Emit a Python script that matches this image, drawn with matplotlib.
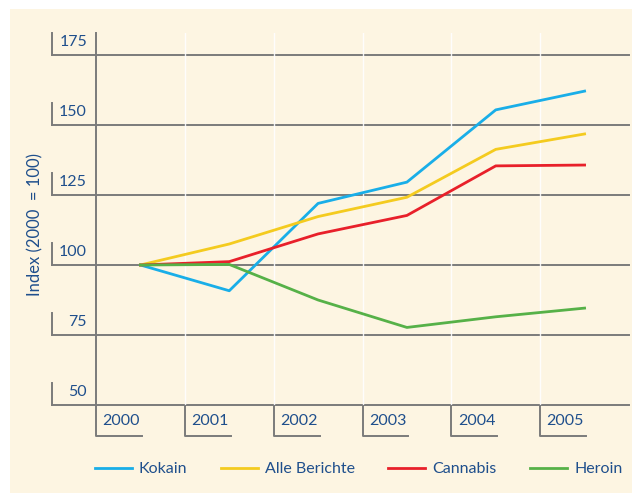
import numpy as np
import matplotlib.pyplot as plt
from matplotlib.lines import Line2D
from matplotlib.patches import Rectangle
import matplotlib.transforms as mtransforms

# Daten
years = ['2000', '2001', '2002', '2003', '2004', '2005']
kokain = [100, 90.8, 122.0, 129.6, 155.4, 162.1]
alle_berichte = [100, 107.5, 117.3, 124.2, 141.3, 146.8]
cannabis = [100, 101.2, 111.1, 117.7, 135.4, 135.7]
heroin = [100, 100.2, 87.5, 77.7, 81.5, 84.6]
y_ticks = [50, 75, 100, 125, 150, 175]

series_names = ['Kokain', 'Alle Berichte', 'Cannabis', 'Heroin']
series_colors = ['#19aee8', '#f4cb1f', '#e8202a', '#56b148']

W, H = 632, 493
txtcol = '#1f4f8c'
gridcol = '#7b7b7b'
plt.rcParams['font.family'] = ['Lato', 'DejaVu Sans']

fig = plt.figure(figsize=(W/100, H/100), dpi=100, facecolor='white')
# cremefarbener Hintergrund
fig.patches.append(Rectangle((10/W, 0), 1 - 10/W, 1 - 9/H, transform=fig.transFigure,
                             facecolor='#fdf5e2', edgecolor='none', zorder=-2))

ax = fig.add_axes([96/W, 1 - 405/H, (629 - 96)/W, (405 - 33)/H])
ax.set_facecolor('none')
ax.set_xlim(-0.5, 5.5)
ax.set_ylim(50, 50 + (405 - 33)/70*25)
for s in ['top', 'right', 'bottom']:
    ax.spines[s].set_visible(False)
ax.spines['left'].set_color(gridcol)
ax.spines['left'].set_linewidth(1.4)
ax.set_xticks([])
ax.set_yticks([])

x = np.arange(len(years))

# weisse senkrechte Linien
for b in np.arange(0.5, 5.0, 1.0):
    ax.axvline(b, color='white', lw=1.0, alpha=0.9, zorder=1)

# waagerechte Linien + Beschriftung links
tr_fy = mtransforms.blended_transform_factory(fig.transFigure, ax.transData)
px_y = 25/70.0
for v in y_ticks:
    fig.lines.append(Line2D([52/W, 629/W], [v, v], transform=tr_fy, color=gridcol, lw=1.4, zorder=-1))
    fig.lines.append(Line2D([52/W, 52/W], [v, v + 22*px_y], transform=tr_fy, color=gridcol, lw=1.4, zorder=-1))
    fig.text(87/W, v + 13.5*px_y, str(v), transform=tr_fy, ha='right', va='center',
             fontsize=11.5, color=txtcol)

# Jahres-Kästchen unten
tr_xf = mtransforms.blended_transform_factory(ax.transData, fig.transFigure)
px_x = 1/89.0
for i, yr in enumerate(years):
    b = i - 0.5
    fig.lines.append(Line2D([b, b, b + 46*px_x], [1 - 405/H, 1 - 436/H, 1 - 436/H], transform=tr_xf,
                            color=gridcol, lw=1.4, zorder=-1))
    fig.text(b + 6.5*px_x, 1 - 421/H, yr, transform=tr_xf, ha='left', va='center',
             fontsize=11.5, color=txtcol)

# Datenlinien
data = [kokain, alle_berichte, cannabis, heroin]
for vals, name, col in zip(data, series_names, series_colors):
    ax.plot(x, vals, color=col, lw=2.0, label=name, zorder=3, clip_on=False)

ax.set_ylabel('Index (2000  = 100)', color=txtcol, fontsize=12)
ax.yaxis.set_label_coords((43 - 96)/(629 - 96), (405 - 225)/(405 - 33))

leg = fig.legend(loc='center left', bbox_to_anchor=(95/W, 1 - 469/H), ncol=4, frameon=False,
                 fontsize=11.5, handlelength=2.3, handletextpad=0.45, columnspacing=2.1,
                 borderaxespad=0, borderpad=0)
for t in leg.get_texts():
    t.set_color(txtcol)

fig.savefig('out.png', dpi=100, facecolor='white')
